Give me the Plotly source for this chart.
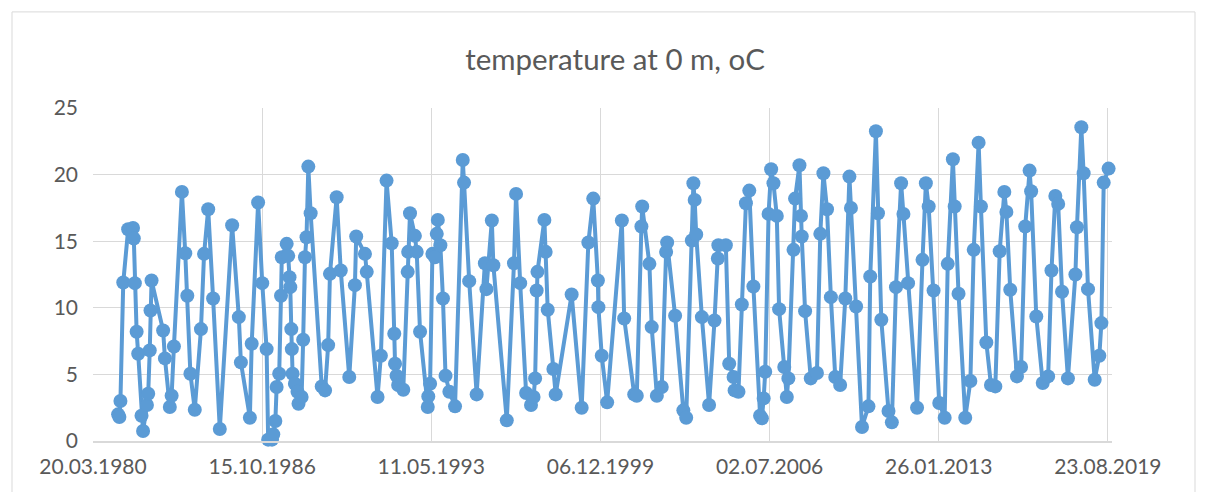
import datetime as dt
import plotly.graph_objects as go

# Sampling times as decimal years and surface temperature values
sample_year = [
    1981.19, 1981.24, 1981.28, 1981.39, 1981.58, 1981.77, 1981.80, 1981.84, 1981.91, 1981.97,
    1982.10, 1982.16, 1982.31, 1982.36, 1982.42, 1982.45, 1982.49, 1982.94, 1983.01, 1983.20,
    1983.27, 1983.36, 1983.67, 1983.80, 1983.88, 1984.00, 1984.17, 1984.41, 1984.53, 1984.69,
    1984.88, 1985.14, 1985.62, 1985.88, 1985.96, 1986.31, 1986.38, 1986.63, 1986.79, 1986.96,
    1987.02, 1987.17, 1987.22, 1987.30, 1987.35, 1987.45, 1987.52, 1987.55, 1987.74, 1987.80,
    1987.85, 1987.88, 1987.92, 1987.94, 1987.97, 1988.06, 1988.16, 1988.20, 1988.32, 1988.38,
    1988.45, 1988.51, 1988.58, 1988.67, 1989.10, 1989.23, 1989.35, 1989.42, 1989.68, 1989.84,
    1990.17, 1990.39, 1990.44, 1990.78, 1990.85, 1991.27, 1991.40, 1991.62, 1991.82, 1991.92,
    1991.95, 1992.01, 1992.07, 1992.27, 1992.44, 1992.46, 1992.53, 1992.72, 1992.79, 1992.92,
    1993.22, 1993.24, 1993.31, 1993.40, 1993.50, 1993.57, 1993.61, 1993.71, 1993.81, 1993.91,
    1994.06, 1994.28, 1994.58, 1994.63, 1994.83, 1995.12, 1995.44, 1995.50, 1995.71, 1995.77,
    1996.29, 1996.57, 1996.65, 1996.81, 1997.04, 1997.23, 1997.33, 1997.39, 1997.45, 1997.48,
    1997.75, 1997.80, 1997.88, 1998.10, 1998.19, 1998.81, 1999.20, 1999.46, 1999.65, 1999.83,
    1999.85, 1999.98, 2000.19, 2000.76, 2000.85, 2001.24, 2001.34, 2001.52, 2001.55, 2001.83,
    2001.92, 2002.12, 2002.31, 2002.48, 2002.52, 2002.83, 2003.15, 2003.26, 2003.48, 2003.54,
    2003.59, 2003.65, 2003.87, 2004.15, 2004.36, 2004.49, 2004.51, 2004.80, 2004.93, 2005.10,
    2005.14, 2005.29, 2005.42, 2005.58, 2005.71, 2005.87, 2006.13, 2006.20, 2006.27, 2006.33,
    2006.46, 2006.56, 2006.65, 2006.78, 2006.87, 2007.07, 2007.17, 2007.23, 2007.43, 2007.49,
    2007.66, 2007.72, 2007.75, 2007.88, 2008.10, 2008.34, 2008.47, 2008.59, 2008.73, 2008.88,
    2009.05, 2009.24, 2009.44, 2009.60, 2009.66, 2009.86, 2010.09, 2010.34, 2010.41, 2010.63,
    2010.71, 2010.84, 2011.12, 2011.25, 2011.41, 2011.61, 2011.70, 2011.88, 2012.23, 2012.44,
    2012.57, 2012.68, 2012.87, 2013.09, 2013.30, 2013.42, 2013.62, 2013.69, 2013.84, 2014.10,
    2014.30, 2014.43, 2014.62, 2014.71, 2014.92, 2015.10, 2015.27, 2015.44, 2015.62, 2015.70,
    2015.85, 2016.11, 2016.27, 2016.43, 2016.60, 2016.66, 2016.86, 2017.11, 2017.32, 2017.45,
    2017.60, 2017.71, 2017.86, 2018.09, 2018.38, 2018.44, 2018.61, 2018.70, 2018.87, 2019.13,
    2019.31, 2019.39, 2019.48, 2019.67,
]

temperature = [
    2.0, 1.8, 3.0, 11.9, 15.9, 16.0, 15.2, 11.85, 8.2, 6.55,
    1.9, 0.75, 2.7, 3.55, 6.8, 9.8, 12.05, 8.3, 6.2, 2.55,
    3.4, 7.1, 18.7, 14.1, 10.9, 5.05, 2.35, 8.4, 14.05, 17.4,
    10.7, 0.9, 16.2, 9.3, 5.9, 1.75, 7.3, 17.9, 11.85, 6.9,
    0.1, 0.1, 0.5, 1.5, 4.05, 5.05, 10.9, 13.8, 14.8, 13.9,
    12.3, 11.55, 8.4, 6.9, 5.05, 4.3, 3.7, 2.8, 3.3, 7.6,
    13.8, 15.3, 20.6, 17.1, 4.1, 3.8, 7.2, 12.55, 18.3, 12.8,
    4.8, 11.7, 15.35, 14.05, 12.7, 3.3, 6.4, 19.55, 14.85, 8.05,
    5.8, 4.9, 4.2, 3.85, 12.7, 14.2, 17.1, 15.4, 14.2, 8.2,
    2.55, 3.35, 4.3, 14.05, 13.8, 15.55, 16.6, 14.7, 10.7, 4.9,
    3.7, 2.6, 21.1, 19.4, 12.0, 3.5, 13.35, 11.4, 16.55, 13.2,
    1.55, 13.35, 18.55, 11.85, 3.6, 2.7, 3.3, 4.7, 11.3, 12.7,
    16.6, 14.2, 9.85, 5.4, 3.5, 11.0, 2.5, 14.9, 18.2, 12.05,
    10.05, 6.4, 2.9, 16.55, 9.2, 3.5, 3.4, 16.1, 17.6, 13.3,
    8.55, 3.4, 4.05, 14.2, 14.9, 9.4, 2.3, 1.75, 15.05, 19.35,
    18.1, 15.5, 9.3, 2.7, 9.05, 13.7, 14.7, 14.7, 5.8, 4.8,
    3.8, 3.7, 10.25, 17.85, 18.8, 11.6, 1.9, 1.7, 3.2, 5.2,
    17.05, 20.4, 19.35, 16.9, 9.9, 5.55, 3.3, 4.7, 14.35, 18.2,
    20.7, 16.9, 15.35, 9.75, 4.7, 5.1, 15.55, 20.1, 17.4, 10.8,
    4.8, 4.2, 10.7, 19.85, 17.5, 10.1, 1.05, 2.6, 12.35, 23.25,
    17.1, 9.1, 2.25, 1.4, 11.55, 19.35, 17.05, 11.85, 2.5, 13.6,
    19.35, 17.6, 11.3, 2.85, 1.75, 13.3, 21.15, 17.6, 11.05, 1.75,
    4.5, 14.35, 22.4, 17.6, 7.4, 4.2, 4.1, 14.25, 18.7, 17.2,
    11.35, 4.85, 5.55, 16.1, 20.3, 18.75, 9.35, 4.35, 4.85, 12.8,
    18.4, 17.8, 11.2, 4.7, 12.5, 16.05, 23.55, 20.1, 11.4, 4.6,
    6.4, 8.85, 19.4, 20.45,
]

x_tick_labels = ["20.03.1980", "15.10.1986", "11.05.1993", "06.12.1999",
                 "02.07.2006", "26.01.2013", "23.08.2019"]
y_tick_values = [0, 5, 10, 15, 20, 25]
title_text = "temperature at 0 m, oC"


def year_to_date(y):
    yi = int(y)
    start = dt.datetime(yi, 1, 1)
    end = dt.datetime(yi + 1, 1, 1)
    return start + (end - start) * (y - yi)


dates = [year_to_date(y) for y in sample_year]
tick_dates = [dt.datetime.strptime(s, "%d.%m.%Y") for s in x_tick_labels]

color = "#5B9BD5"
grid = "#D9D9D9"
text_col = "#595959"

fig = go.Figure(go.Scatter(
    x=dates, y=temperature, mode="lines+markers",
    line=dict(color=color, width=4),
    marker=dict(color=color, size=14),
    cliponaxis=False,
    showlegend=False,
))

x_min = tick_dates[0]
x_max = tick_dates[-1] + dt.timedelta(days=59)

# page body adds an 8px offset; figure is sized/margined to compensate
fig.update_layout(
    width=1198, height=484,
    margin=dict(l=85, r=94, t=100, b=51),
    paper_bgcolor="white", plot_bgcolor="white",
    font=dict(family="Lato, Open Sans, sans-serif", color=text_col, size=22),
    title=dict(text=title_text, x=(615 - 8) / 1198, xanchor="center",
               y=1 - 52 / 484, yanchor="middle", yref="container",
               font=dict(size=29.5, color=text_col)),
    xaxis=dict(
        type="date", range=[x_min, x_max],
        tickvals=tick_dates, ticktext=x_tick_labels,
        showgrid=True, gridcolor=grid, gridwidth=1.3,
        showline=True, linecolor=grid, linewidth=1.5,
        ticks="", zeroline=False, ticklabelstandoff=6,
        tickfont=dict(size=21, color=text_col),
    ),
    yaxis=dict(
        range=[0, 25], tickvals=y_tick_values,
        showgrid=True, gridcolor=grid, gridwidth=1.3,
        showline=False, zeroline=False, ticks="",
        ticklabelstandoff=14,
        tickfont=dict(size=21, color=text_col),
    ),
    shapes=[dict(type="rect", xref="paper", yref="paper",
                 x0=(12 - 93) / 1019, x1=(1195 - 93) / 1019,
                 y0=(440.7 - 520) / 332.7, y1=(440.7 - 12) / 332.7,
                 line=dict(color=grid, width=1), fillcolor="rgba(0,0,0,0)",
                 layer="below")],
)

fig.write_html("out.html")
